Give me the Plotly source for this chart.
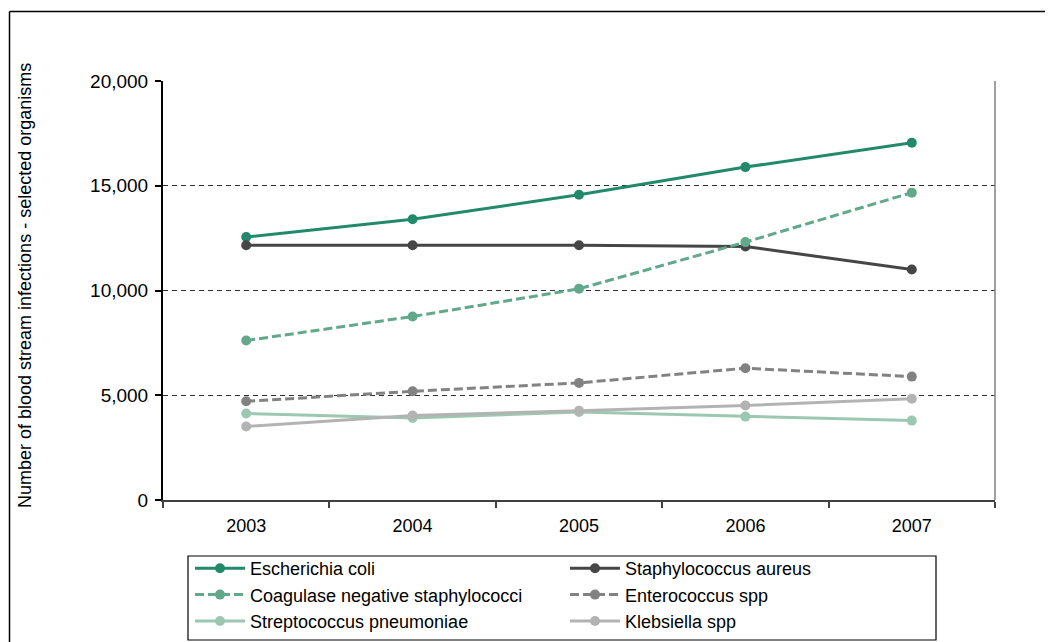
import plotly.graph_objects as go

years = ["2003", "2004", "2005", "2006", "2007"]
ecoli = [12550, 13400, 14570, 15890, 17050]
saureus = [12160, 12160, 12160, 12100, 11000]
cons = [7610, 8760, 10080, 12310, 14670]
entero = [4710, 5190, 5590, 6290, 5890]
strep = [4130, 3920, 4200, 3980, 3790]
kleb = [3510, 4030, 4260, 4510, 4830]

y_ticks = [0, 5000, 10000, 15000, 20000]
y_title = "Number of blood stream infections - selected organisms"

series = [
    ("Escherichia coli", ecoli, "#22896a", "solid"),
    ("Staphylococcus aureus", saureus, "#464646", "solid"),
    ("Coagulase negative staphylococci", cons, "#62a98c", "9px,4px"),
    ("Enterococcus spp", entero, "#828282", "9px,4px"),
    ("Streptococcus pneumoniae", strep, "#9cc8b3", "solid"),
    ("Klebsiella spp", kleb, "#b3b3b3", "solid"),
]

FONT = "Liberation Sans, Arial, sans-serif"

fig = go.Figure()
for name, vals, color, dash in series:
    fig.add_trace(go.Scatter(
        x=years, y=vals, name=name, mode="lines+markers",
        line=dict(color=color, width=3, dash=dash),
        marker=dict(color=color, size=10),
    ))

# the page places the figure 8px from the window's top-left corner
OFF = 8
W, H = 1053 - OFF, 642 - OFF
# plot area in window coordinates
PX0, PX1, PY0, PY1 = 163, 995, 81, 500
L, T = PX0 - OFF, PY0 - OFF
R, B = W - (PX1 - OFF), H - (PY1 - OFF)
pw, ph = PX1 - PX0, PY1 - PY0

def px_x(x):
    return (x - PX0) / pw

def px_y(y):
    return (PY1 - y) / ph

def cont_y(y):
    return 1 - (y - OFF) / H

fig.update_layout(
    width=W, height=H,
    margin=dict(l=L, r=R, t=T, b=B, pad=0, autoexpand=False),
    paper_bgcolor="white", plot_bgcolor="white",
    font=dict(family=FONT, color="#000000", size=18),
    showlegend=True,
    legend=dict(
        orientation="h", x=px_x(190), xanchor="left",
        yref="container", y=cont_y(550), yanchor="top",
        entrywidth=310, entrywidthmode="pixels", itemwidth=50,
        font=dict(family=FONT, size=18, color="#000000"),
        bgcolor="rgba(0,0,0,0)", borderwidth=0, tracegroupgap=0,
    ),
    xaxis=dict(
        type="category", range=[-0.5, 4.5], tickson="boundaries",
        ticks="outside", ticklen=6, tickcolor="#404040", tickwidth=1.5,
        showline=True, linecolor="#404040", linewidth=2,
        showgrid=False, zeroline=False,
        tickfont=dict(family=FONT, size=18, color="#000000"),
        ticklabelstandoff=8,
    ),
    yaxis=dict(
        range=[0, 20000], tickvals=y_ticks, tickformat=",",
        ticks="outside", ticklen=6, tickcolor="#000000", tickwidth=1.5,
        showline=True, linecolor="#000000", linewidth=2,
        showgrid=True, gridcolor="#303030", gridwidth=1, griddash="5px,4px",
        zeroline=False,
        tickfont=dict(family=FONT, size=19, color="#000000"),
        ticklabelstandoff=3,
    ),
    annotations=[dict(
        text=y_title, textangle=-90, xref="paper", yref="paper",
        x=px_x(25), y=px_y(286), xanchor="center", yanchor="middle",
        showarrow=False, font=dict(family=FONT, size=18, color="#000000"),
    )],
    shapes=[
        # right border of plot area
        dict(type="line", xref="paper", yref="paper", x0=1, x1=1, y0=0, y1=1,
             line=dict(color="#808080", width=1.5)),
        # legend box
        dict(type="rect", xref="paper", yref="paper",
             x0=px_x(188), x1=px_x(936), y0=px_y(556), y1=px_y(640),
             line=dict(color="#000000", width=1.2)),
        # outer frame (top and left)
        dict(type="line", xref="paper", yref="paper",
             x0=px_x(9.5), x1=px_x(1060), y0=px_y(11.5), y1=px_y(11.5),
             line=dict(color="#000000", width=1.5)),
        dict(type="line", xref="paper", yref="paper",
             x0=px_x(9.5), x1=px_x(9.5), y0=px_y(11.5), y1=px_y(660),
             line=dict(color="#000000", width=1.5)),
    ],
)

fig.write_html("out.html")
